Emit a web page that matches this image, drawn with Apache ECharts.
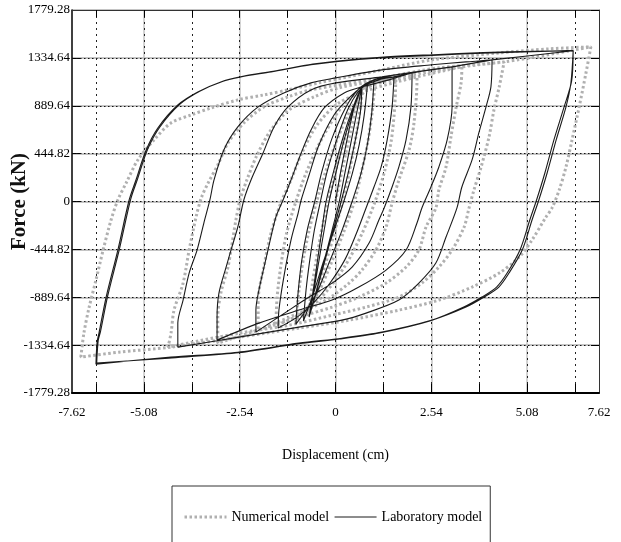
<!DOCTYPE html>
<html><head><meta charset="utf-8">
<script src="https://cdn.jsdelivr.net/npm/echarts@6/dist/echarts.min.js"></script>
<style>html,body{margin:0;padding:0;background:#fff}#c{width:621px;height:542px}</style>
</head><body><div id="c"></div>
<script>
// ---- axis ticks / labels ----
const xTickValues = [-6.35, -5.08, -3.81, -2.54, -1.27, 0, 1.27, 2.54, 3.81, 5.08, 6.35];
const xMajorValues = [-5.08, -2.54, 0, 2.54, 5.08];
const xLabelValues = [-6.985, -5.08, -2.54, 0, 2.54, 5.08, 6.985];
const xLabelTexts = ['-7.62', '-5.08', '-2.54', '0', '2.54', '5.08', '7.62'];
const yLabelTexts = ['-1779.28', '-1334.64', '-889.64', '-444.82', '0', '444.82', '889.64', '1334.64', '1779.28'];

// ---- Laboratory model (displacement cm, force kN) ----
const labLoad = [[0,0],[0.15,300],[0.32,600],[0.5,880],[0.70,1065]];
const labCycle1 = [[0.70,1065],[0.55,800],[0.40,530],[0.25,265],[0.10,0],[-0.10,-280],[-0.30,-550],[-0.50,-820],[-0.70,-1074],
  [-0.56,-800],[-0.43,-530],[-0.30,-265],[-0.17,0],[0.02,280],[0.22,560],[0.45,830],[0.70,1065]];
const labCycle2 = [[0.66,830],[0.52,560],[0.34,270],[0.15,0],[-0.07,-280],[-0.28,-550],[-0.49,-820],[-0.70,-1074],
  [-0.58,-800],[-0.47,-530],[-0.36,-265],[-0.25,0],[-0.05,280],[0.17,560],[0.42,830],[0.70,1065]];
const labCycle3 = [[0.85,1095],[0.76,800],[0.63,530],[0.45,265],[0.22,0],[-0.05,-280],[-0.32,-560],[-0.58,-850],[-0.85,-1110],
  [-0.78,-820],[-0.68,-540],[-0.56,-265],[-0.40,0],[-0.22,280],[0.04,580],[0.32,850],[0.60,1020],[0.85,1095]];
const labCycle4 = [[1.02,1130],[0.96,820],[0.85,540],[0.68,265],[0.44,0],[0.16,-280],[-0.16,-560],[-0.50,-850],[-0.80,-1020],[-1.05,-1140],
  [-1.00,-880],[-0.90,-560],[-0.75,-265],[-0.55,0],[-0.36,280],[-0.10,580],[0.25,860],[0.60,1040],[1.02,1130]];
const labCycle5 = [[1.55,1158],[1.50,879],[1.37,572],[1.21,321],[1.02,135],[0.81,-60],[0.55,-300],[0.25,-540],[-0.15,-760],[-0.55,-930],[-1.00,-1070],[-1.52,-1176],
  [-1.50,-1009],[-1.37,-702],[-1.18,-358],[-0.99,-107],[-0.91,14],[-0.70,246],[-0.44,525],[-0.04,804],[0.36,962],[0.70,1065],[1.15,1130],[1.55,1158]];
const labCycle6 = [[2.03,1195],[2.00,879],[1.87,572],[1.68,321],[1.50,135],[1.29,-60],[1.15,-172],[0.89,-386],[0.44,-609],[-0.09,-758],[-0.70,-888],[-1.23,-1009],[-2.11,-1214],
  [-2.11,-1009],[-2.03,-823],[-1.79,-451],[-1.58,-144],[-1.39,14],[-1.18,200],[-0.91,451],[-0.65,665],[-0.30,869],[0.23,1009],[0.70,1065],[1.42,1130],[2.03,1195]];
const labCycle7 = [[3.09,1251],[3.09,879],[2.96,572],[2.74,321],[2.53,135],[2.29,-60],[2.16,-200],[1.87,-451],[1.34,-637],[0.62,-795],[-0.09,-916],[-0.97,-1009],[-2.03,-1130],[-3.14,-1288],
  [-3.14,-1074],[-3.09,-851],[-2.90,-609],[-2.77,-451],[-2.59,-237],[-2.43,14],[-2.24,200],[-1.92,451],[-1.63,693],[-1.26,879],[-0.65,1037],[0.01,1102],[1.23,1158],[2.13,1204],[3.09,1251]];
const labCycle8 = [[4.15,1316],[4.12,1065],[3.99,879],[3.80,637],[3.62,386],[3.35,135],[3.22,-60],[2.93,-330],[2.66,-572],[2.21,-758],[1.68,-916],[0.81,-1037],[0.17,-1102],[-0.97,-1167],[-2.56,-1260],[-4.18,-1353],
  [-4.18,-1130],[-4.04,-916],[-3.88,-665],[-3.67,-451],[-3.49,-200],[-3.33,14],[-3.22,200],[-2.96,479],[-2.59,693],[-2.05,879],[-1.37,1009],[-0.65,1102],[0.01,1149],[1.23,1223],[2.56,1270],[3.46,1297],[4.15,1316]];
const labCycle9 = [[6.30,1400],[6.24,1101],[6.11,879],[5.85,572],[5.61,265],[5.39,14],[5.21,-172],[4.95,-451],[4.60,-665],[4.33,-795],[3.94,-888],[3.46,-981],[2.56,-1102],[1.23,-1214],[0.17,-1270],[-0.97,-1316],[-2.59,-1400],[-4.36,-1446],[-6.35,-1511],
  [-6.32,-1306],[-6.27,-1223],[-6.08,-888],[-5.77,-451],[-5.47,14],[-5.29,200],[-5.02,478],[-4.71,683],[-4.18,897],[-3.65,1018],[-3.04,1111],[-2.51,1158],[-1.71,1204],[-0.65,1270],[0.01,1300],[1.23,1335],[2.56,1358],[3.88,1378],[5.21,1392],[6.30,1400]];
const labCycle10 = [[6.26,1120],[6.06,879],[5.79,572],[5.55,265],[5.33,14],[5.15,-172],[4.89,-451],[4.55,-665],[4.27,-795],[3.88,-888],[3.40,-981],[2.50,-1110],[1.17,-1222],[0.11,-1278],[-1.03,-1324],[-2.65,-1408],[-4.42,-1455],[-6.33,-1500],
  [-6.29,-1290],[-6.23,-1210],[-6.04,-880],[-5.73,-445],[-5.43,20],[-5.25,206],[-4.98,484],[-4.66,690],[-4.13,902],[-3.60,1024],[-2.98,1117],[-2.45,1164],[-1.65,1210],[-0.60,1276],[0.06,1306],[1.28,1341],[2.60,1364],[3.92,1384],[5.25,1396],[6.28,1402]];

// ---- Numerical model ----
const numLoad = [[0,0],[0.2,330],[0.4,650],[0.58,900],[0.72,1050]];
const numCycle1 = [[0.72,1050],[0.62,780],[0.48,480],[0.32,200],[0.18,0],[-0.02,-280],[-0.25,-560],[-0.48,-830],[-0.72,-1060],
  [-0.62,-780],[-0.48,-480],[-0.33,-200],[-0.20,0],[0.00,280],[0.22,560],[0.46,830],[0.72,1050]];
const numCycle2 = [[1.05,1110],[0.97,820],[0.85,540],[0.68,260],[0.50,0],[0.22,-280],[-0.10,-560],[-0.48,-860],[-1.05,-1120],
  [-0.97,-830],[-0.86,-550],[-0.70,-270],[-0.50,0],[-0.25,290],[0.05,580],[0.45,880],[1.05,1110]];
const numCycle3 = [[1.60,1140],[1.57,880],[1.48,570],[1.30,280],[1.05,0],[0.70,-300],[0.25,-600],[-0.40,-900],[-1.00,-1060],[-1.58,-1150],
  [-1.55,-900],[-1.45,-600],[-1.30,-300],[-1.05,0],[-0.75,290],[-0.35,590],[0.15,870],[0.70,1040],[1.60,1140]];
const numCycle4 = [[2.16,1158],[2.16,1130],[2.08,729],[1.95,479],[1.68,200],[1.50,-14],[1.34,-237],[1.07,-451],[0.70,-637],[0.36,-758],[-0.25,-916],[-0.97,-1037],[-2.05,-1195],
  [-2.05,-916],[-1.90,-609],[-1.71,-293],[-1.45,-14],[-1.18,200],[-0.89,451],[-0.49,711],[0.09,916],[0.89,1037],[2.16,1158]];
const numCycle5 = [[3.35,1251],[3.33,1102],[3.20,879],[3.06,600],[2.93,321],[2.74,107],[2.66,-60],[2.40,-237],[2.21,-451],[1.87,-609],[1.34,-758],[0.62,-888],[-0.09,-981],[-1.23,-1102],[-3.12,-1316],
  [-3.12,-1074],[-3.04,-851],[-2.85,-609],[-2.77,-451],[-2.64,-172],[-2.53,14],[-2.35,200],[-2.08,432],[-1.71,665],[-1.23,851],[-0.57,972],[0.09,1056],[1.68,1158],[3.35,1251]];
const numCycle6 = [[4.47,1297],[4.34,1065],[4.20,851],[4.07,600],[3.86,321],[3.67,107],[3.54,-60],[3.41,-237],[3.09,-451],[2.74,-609],[2.29,-758],[1.68,-888],[0.81,-981],[-0.09,-1056],[-1.23,-1149],[-2.56,-1223],[-4.44,-1353],
  [-4.36,-1223],[-4.28,-1009],[-4.04,-758],[-3.88,-451],[-3.68,-120],[-3.55,40],[-3.38,170],[-3.12,340],[-2.85,543],[-2.43,729],[-1.90,879],[-1.26,972],[-0.65,1037],[1.23,1149],[2.74,1242],[4.47,1297]];
const numCycle7 = [[6.77,1437],[6.64,1195],[6.46,879],[6.27,572],[6.11,321],[5.93,107],[5.74,-60],[5.58,-144],[5.21,-358],[4.87,-516],[4.34,-665],[3.62,-795],[2.74,-916],[1.68,-1009],[0.36,-1102],[-0.97,-1176],[-2.56,-1260],[-4.36,-1353],[-5.74,-1400],[-6.75,-1446],
  [-6.67,-1223],[-6.53,-981],[-6.35,-730],[-6.16,-451],[-5.95,-172],[-5.77,14],[-5.55,172],[-5.24,386],[-4.81,572],[-4.36,730],[-3.83,804],[-3.30,869],[-2.59,944],[-1.90,990],[-1.26,1037],[-0.44,1102],[1.23,1223],[2.56,1316],[4.34,1381],[5.66,1418],[6.77,1437]];

const labPath = [].concat(labLoad, labCycle1, labCycle2, labCycle3, labCycle4, labCycle5, labCycle6, labCycle7, labCycle8, labCycle9, labCycle10);
const numPath = [].concat(numLoad, numCycle1, numCycle2, numCycle3, numCycle4, numCycle5, numCycle6, numCycle7);

const FONT = "'Liberation Serif','Times New Roman',serif";
const X_MIN = -6.985, X_MAX = 6.985, Y_MIN = -1779.28, Y_MAX = 1779.28, Y_STEP = 444.82;

function xLabel(v) {
  let best = 0, d = Infinity;
  xLabelValues.forEach((t, i) => { const dd = Math.abs(t - v); if (dd < d) { d = dd; best = i; } });
  return xLabelTexts[best];
}

const chart = echarts.init(document.getElementById('c'), null, {renderer: 'canvas'});
chart.setOption({
  animation: false,
  backgroundColor: '#fff',
  grid: {left: 72, right: 22, top: 10, bottom: 149, containLabel: false, outerBoundsMode: 'none'},
  xAxis: [
    { type: 'value', min: X_MIN, max: X_MAX, position: 'bottom', z: 0,
      axisLine: {show: false, onZero: false},
      axisTick: {show: false, customValues: xMajorValues},
      axisLabel: {show: false},
      splitLine: {show: true, lineStyle: {color: '#c4c4c4', width: 1.5, type: 'solid'}} },
    { type: 'value', min: X_MIN, max: X_MAX, position: 'top', z: 1,
      axisLine: {show: true, onZero: false, lineStyle: {color: '#333', width: 1}},
      axisTick: {show: true, inside: true, length: 7, customValues: xTickValues, lineStyle: {color: '#000', width: 1}},
      axisLabel: {show: false},
      splitLine: {show: true, lineStyle: {color: '#222', width: 1, type: [2, 4]}} },
    { type: 'value', min: X_MIN, max: X_MAX, position: 'bottom', z: 1,
      axisLine: {show: true, onZero: false, lineStyle: {color: '#000', width: 2}},
      axisTick: {show: true, inside: true, length: 9, customValues: xTickValues, lineStyle: {color: '#000', width: 1}},
      axisLabel: {show: true, customValues: xLabelValues, formatter: xLabel, margin: 13,
        fontFamily: FONT, fontSize: 13, color: '#000'},
      splitLine: {show: false},
      name: 'Displacement (cm)', nameLocation: 'middle', nameGap: 55, nameMoveOverlap: false,
      nameTextStyle: {fontFamily: FONT, fontSize: 14, color: '#000'} }
  ],
  yAxis: [
    { type: 'value', min: Y_MIN, max: Y_MAX, interval: Y_STEP, position: 'left', z: 0,
      axisLine: {show: true, onZero: false, lineStyle: {color: '#000', width: 1.5}},
      axisTick: {show: true, inside: true, length: 8, lineStyle: {color: '#000', width: 1}},
      axisLabel: {show: true, margin: 2, fontFamily: FONT, fontSize: 13, color: '#000',
        formatter: v => yLabelTexts[Math.round((v - Y_MIN) / Y_STEP)]},
      splitLine: {show: true, lineStyle: {color: '#c4c4c4', width: 2, type: 'solid'}},
      name: 'Force (kN)', nameLocation: 'middle', nameGap: 42, nameRotate: 90, nameMoveOverlap: false,
      nameTextStyle: {fontFamily: FONT, fontSize: 21, fontWeight: 'bold', color: '#111'} },
    { type: 'value', min: Y_MIN, max: Y_MAX, interval: Y_STEP, position: 'right', z: 1,
      axisLine: {show: true, onZero: false, lineStyle: {color: '#333', width: 1}},
      axisTick: {show: true, inside: true, length: 8, lineStyle: {color: '#000', width: 1}},
      axisLabel: {show: false},
      splitLine: {show: true, lineStyle: {color: '#111', width: 1, type: [1.5, 2.5]}} }
  ],
  legend: {
    data: [
      {name: 'Numerical model', lineStyle: {width: 3, color: '#b0b0b0', type: [2.5, 2.5]}},
      {name: 'Laboratory model', lineStyle: {width: 1, color: '#1a1a1a', type: 'solid'}}
    ],
    left: 172, top: 486, orient: 'horizontal',
    borderColor: '#333', borderWidth: 1, padding: [24, 8, 30, 11],
    itemWidth: 42, itemHeight: 12, itemGap: 5,
    itemStyle: {opacity: 0},
    textStyle: {fontFamily: FONT, fontSize: 14, color: '#000'}
  },
  series: [
    { name: 'Numerical model', type: 'line', xAxisIndex: 2, yAxisIndex: 0, data: numPath,
      showSymbol: false, symbol: 'none', smooth: 0.3, z: 3,
      lineStyle: {color: '#b0b0b0', width: 3, type: [2.5, 2.5], cap: 'butt'},
      itemStyle: {color: '#b0b0b0'} },
    { name: 'Laboratory model', type: 'line', xAxisIndex: 2, yAxisIndex: 0, data: labPath,
      showSymbol: false, symbol: 'none', smooth: 0.3, z: 4,
      lineStyle: {color: '#1a1a1a', width: 1.1},
      itemStyle: {color: '#1a1a1a'} }
  ]
});
</script></body></html>
